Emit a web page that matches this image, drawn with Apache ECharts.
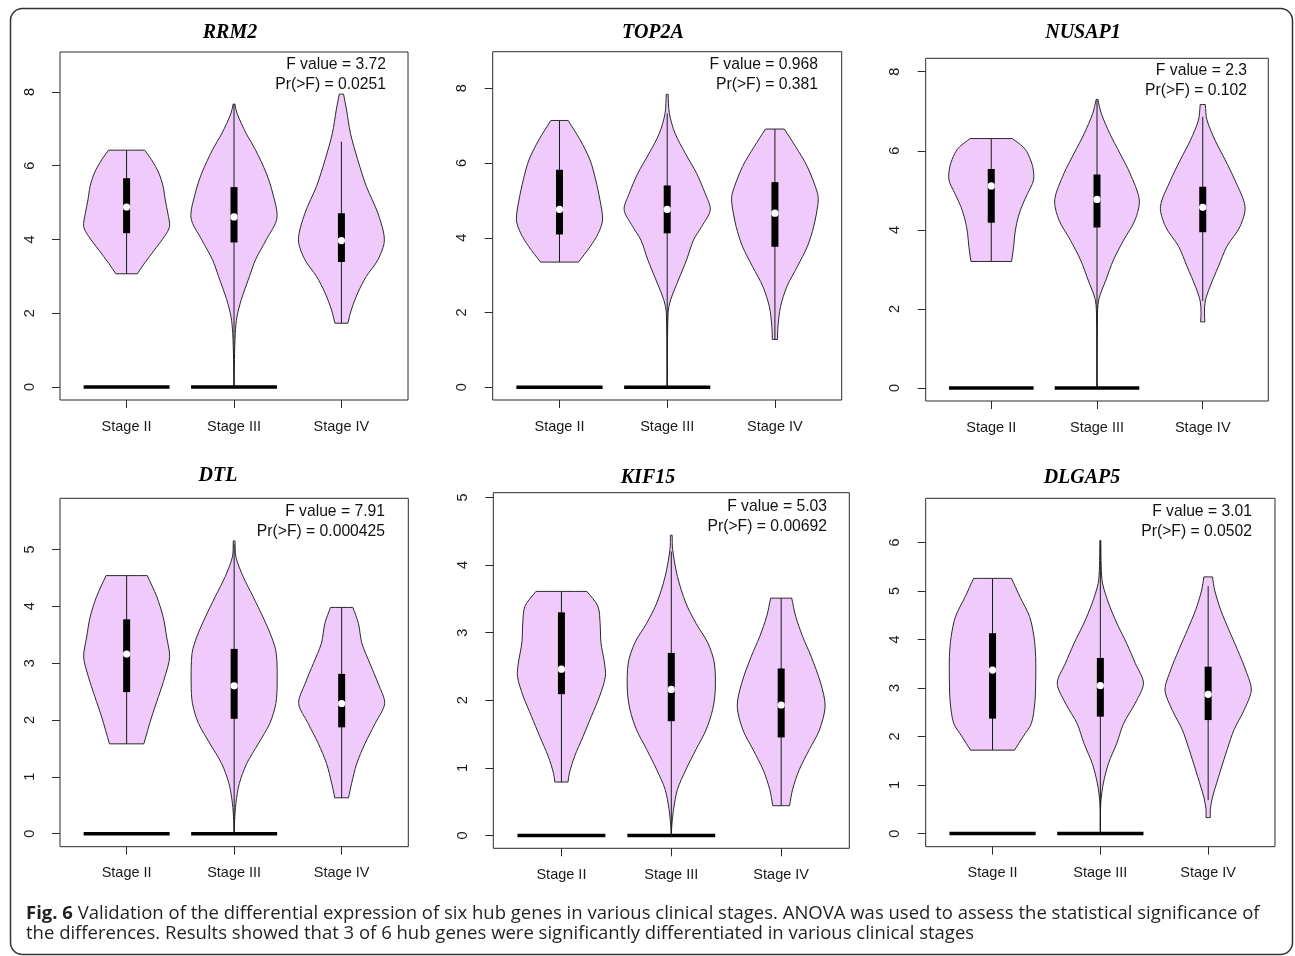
<!DOCTYPE html>
<html>
<head>
<meta charset="utf-8">
<script src="https://cdn.jsdelivr.net/npm/echarts@6/dist/echarts.min.js"></script>
<style>
html,body{margin:0;padding:0;background:#fff;}
#chart{width:1295px;height:956px;}
</style>
</head>
<body>
<div id="chart"></div>
<script>
// ---------- data ----------
const stages = ['Stage II', 'Stage III', 'Stage IV'];
const stagePos = [1, 2, 3];
const genes = ['RRM2', 'TOP2A', 'NUSAP1', 'DTL', 'KIF15', 'DLGAP5'];
const fValues = ['3.72', '0.968', '2.3', '7.91', '5.03', '3.01'];
const pValues = ['0.0251', '0.381', '0.102', '0.000425', '0.00692', '0.0502'];
const yTicks = [[0,2,4,6,8],[0,2,4,6,8],[0,2,4,6,8],[0,1,2,3,4,5],[0,1,2,3,4,5],[0,1,2,3,4,5,6]];
const yRanges = [[-0.35,9.08],[-0.34,8.98],[-0.33,8.34],[-0.23,5.9],[-0.19,5.07],[-0.27,6.91]];
const zeroBarStages = [1, 2];

// violin profiles: [expression value, relative half-width], bottom -> top
const rrm2Violins = [
  [[3.07,0.25],[3.36,0.42],[3.72,0.65],[4.08,0.88],[4.35,1.0],[4.71,0.96],[5.07,0.9],[5.44,0.85],[5.8,0.75],[6.16,0.58],[6.42,0.42]],
  [[0,0],[0.74,0.01],[1.46,0.03],[1.91,0.07],[2.37,0.17],[3.0,0.36],[3.45,0.5],[3.99,0.75],[4.58,1.0],[5.26,0.9],[5.8,0.75],[6.43,0.5],[6.88,0.28],[7.42,0.07],[7.67,0.02]],
  [[1.73,0.15],[2.09,0.23],[2.55,0.38],[3.0,0.58],[3.45,0.85],[3.99,1.0],[4.71,0.85],[5.44,0.58],[6.16,0.38],[6.88,0.21],[7.51,0.12],[7.94,0.05]]
];
const top2aViolins = [
  [[3.35,0.44],[3.76,0.71],[4.12,0.9],[4.48,1.0],[5.01,0.94],[5.55,0.84],[6.08,0.71],[6.62,0.48],[7.14,0.2]],
  [[0,0],[1.98,0.02],[2.34,0.08],[2.87,0.26],[3.41,0.45],[3.94,0.61],[4.3,0.8],[4.75,1.0],[5.19,0.88],[5.73,0.68],[6.26,0.42],[6.8,0.18],[7.33,0.05],[7.84,0.02]],
  [[1.28,0.06],[1.62,0.07],[2.16,0.13],[2.7,0.28],[3.23,0.52],[3.76,0.75],[4.3,0.9],[4.92,1.0],[5.19,0.99],[5.91,0.75],[6.44,0.48],[6.91,0.22]]
];
const nusap1Violins = [
  [[3.2,0.48],[3.58,0.53],[3.91,0.56],[4.25,0.62],[4.59,0.72],[4.92,0.86],[5.26,1.0],[5.6,0.98],[5.94,0.86],[6.1,0.75],[6.31,0.5]],
  [[0,0],[1.72,0.01],[2.23,0.04],[2.73,0.21],[3.24,0.39],[3.74,0.63],[4.25,0.9],[4.76,1.0],[5.43,0.78],[5.94,0.54],[6.44,0.3],[6.95,0.1],[7.3,0.02]],
  [[1.67,0.05],[1.9,0.04],[2.2,0.06],[2.56,0.17],[3.07,0.37],[3.58,0.57],[4.08,0.88],[4.59,1.0],[5.26,0.76],[5.77,0.53],[6.27,0.29],[6.78,0.1],[7.17,0.06]]
];
const dtlViolins = [
  [[1.58,0.4],[2.05,0.58],[2.41,0.74],[2.76,0.89],[3.11,1.0],[3.46,0.93],[3.81,0.85],[4.17,0.7],[4.54,0.48]],
  [[0,0],[0.23,0.01],[0.53,0.04],[0.88,0.12],[1.23,0.29],[1.58,0.56],[1.94,0.83],[2.29,0.97],[2.64,1.0],[3.17,0.98],[3.46,0.87],[3.81,0.67],[4.17,0.44],[4.52,0.21],[4.87,0.04],[5.15,0.02]],
  [[0.63,0.16],[0.88,0.23],[1.23,0.35],[1.58,0.54],[1.94,0.78],[2.29,1.0],[2.64,0.85],[2.99,0.66],[3.35,0.47],[3.7,0.39],[3.98,0.26]]
];
const kif15Violins = [
  [[0.79,0.15],[0.92,0.18],[1.17,0.3],[1.46,0.49],[1.76,0.68],[2.06,0.87],[2.35,1.0],[2.55,0.98],[2.85,0.9],[3.14,0.88],[3.39,0.83],[3.61,0.58]],
  [[0,0],[0.13,0.01],[0.38,0.05],[0.68,0.14],[0.97,0.33],[1.27,0.56],[1.56,0.79],[1.86,0.94],[2.15,1.0],[2.55,0.98],[2.85,0.83],[3.14,0.56],[3.44,0.33],[3.83,0.14],[4.23,0.03],[4.44,0.02]],
  [[0.44,0.19],[0.68,0.26],[0.97,0.41],[1.27,0.64],[1.56,0.87],[1.91,1.0],[2.25,0.9],[2.65,0.68],[2.94,0.49],[3.24,0.33],[3.51,0.24]]
];
const dlgap5Violins = [
  [[1.72,0.51],[2.0,0.71],[2.27,0.9],[2.69,0.98],[3.1,1.0],[3.65,1.0],[4.06,0.96],[4.47,0.86],[4.89,0.63],[5.26,0.44]],
  [[0,0],[0.63,0.01],[1.04,0.07],[1.45,0.19],[1.86,0.38],[2.27,0.54],[2.69,0.81],[3.1,1.0],[3.51,0.81],[3.92,0.61],[4.34,0.38],[4.75,0.19],[5.16,0.05],[5.5,0.02],[6.04,0.01]],
  [[0.33,0.05],[0.5,0.05],[0.75,0.1],[1.05,0.2],[1.31,0.29],[1.73,0.44],[2.14,0.6],[2.54,0.83],[2.96,1.0],[3.37,0.87],[3.79,0.68],[4.2,0.48],[4.61,0.29],[5.02,0.15],[5.29,0.1]]
];
// box stats: [lower whisker, Q1, median, Q3, upper whisker]
const rrm2Box   = [[3.07,4.17,4.88,5.66,6.42],[0,3.92,4.61,5.42,7.67],[1.73,3.39,3.97,4.71,6.65]];
const top2aBox  = [[3.35,4.09,4.76,5.82,7.14],[0,4.12,4.76,5.4,7.33],[1.28,3.76,4.66,5.49,6.91]];
const nusap1Box = [[3.2,4.18,5.11,5.54,6.31],[0,4.06,4.77,5.4,7.3],[2.2,3.94,4.57,5.09,6.86]];
const dtlBox    = [[1.58,2.49,3.16,3.77,4.54],[0,2.02,2.6,3.25,5.1],[0.63,1.87,2.29,2.81,3.98]];
const kif15Box  = [[0.79,2.09,2.46,3.3,3.61],[0,1.69,2.16,2.7,4.2],[0.44,1.45,1.93,2.47,3.51]];
const dlgap5Box = [[1.72,2.37,3.37,4.13,5.26],[0,2.41,3.05,3.62,6.04],[0.69,2.34,2.87,3.44,5.1]];

const violins = [rrm2Violins, top2aViolins, nusap1Violins, dtlViolins, kif15Violins, dlgap5Violins];
const boxes = [rrm2Box, top2aBox, nusap1Box, dtlBox, kif15Box, dlgap5Box];

// ---------- layout (pixels) ----------
const layout = [
  {left:60,    top:52,    width:348,   height:348,   titleX:230,  titleY:33,  annX:386,  annY:65},
  {left:492.7, top:51.7,  width:349,   height:348.3, titleX:653,  titleY:33,  annX:818,  annY:65},
  {left:925.7, top:58.3,  width:342.6, height:342.7, titleX:1083, titleY:33,  annX:1247, annY:71},
  {left:60,    top:498.3, width:348.3, height:348.4, titleX:218,  titleY:476, annX:385,  annY:512},
  {left:493.3, top:492.7, width:356,   height:355.6, titleX:648,  titleY:478, annX:827,  annY:507},
  {left:925.7, top:498.3, width:349.3, height:348.4, titleX:1082, titleY:478, annX:1252, annY:512}
];
const VW = 0.4;           // max violin half-width (x units)
const FILL = '#EFCAFB';
const INK = '#2a2a2a';
const SANS = '"Liberation Sans", Arial, Helvetica, sans-serif';

const chart = echarts.init(document.getElementById('chart'), null, {renderer: 'canvas'});

function makeRender(g) {
  return function (params, api) {
    const s = api.value(0);
    const k = params.dataIndex;
    const prof = violins[g][k];
    const box = boxes[g][k];
    const right = prof.map(p => api.coord([s + p[1] * VW, p[0]]));
    const left = prof.map(p => api.coord([s - p[1] * VW, p[0]])).reverse();
    const n = right.length;
    const pts = [right[0]].concat(right, [right[n - 1], left[0]], left, [left[n - 1]]);
    const children = [];
    children.push({
      type: 'polygon',
      shape: {points: pts, smooth: 0.3},
      style: {fill: FILL, stroke: INK, lineWidth: 1}
    });
    if (zeroBarStages.indexOf(s) >= 0) {
      const a = api.coord([s - 0.4, 0]), b = api.coord([s + 0.4, 0]);
      children.push({type: 'line', shape: {x1: a[0], y1: a[1], x2: b[0], y2: b[1]},
        style: {stroke: '#000', lineWidth: 3.5}});
    }
    const w0 = api.coord([s, box[0]]), w1 = api.coord([s, box[4]]);
    children.push({type: 'line', shape: {x1: w0[0], y1: w0[1], x2: w1[0], y2: w1[1]},
      style: {stroke: '#1a1a1a', lineWidth: 1}});
    const q1 = api.coord([s, box[1]]), q3 = api.coord([s, box[3]]);
    children.push({type: 'rect', shape: {x: q1[0] - 3.5, y: q3[1], width: 7, height: q1[1] - q3[1]},
      style: {fill: '#000'}});
    const m = api.coord([s, box[2]]);
    children.push({type: 'circle', shape: {cx: m[0], cy: m[1], r: 3.6}, style: {fill: '#fff'}});
    return {type: 'group', children: children};
  };
}

const grids = [], xAxes = [], yAxes = [], series = [], graphics = [];
genes.forEach((gene, g) => {
  const L = layout[g];
  grids.push({left: L.left, top: L.top, width: L.width, height: L.height,
    show: true, borderColor: INK, borderWidth: 1, backgroundColor: 'transparent', containLabel: false});
  xAxes.push({
    gridIndex: g, type: 'value', min: 0.38, max: 3.62,
    splitLine: {show: false}, axisLine: {show: false, onZero: false},
    axisTick: {show: true, customValues: stagePos, length: 8, lineStyle: {color: INK, width: 1}},
    axisLabel: {show: true, customValues: stagePos, margin: 19, fontSize: 14.5, color: '#1a1a1a',
      fontFamily: SANS, formatter: v => stages[Math.round(v) - 1]}
  });
  yAxes.push({
    gridIndex: g, type: 'value', min: yRanges[g][0], max: yRanges[g][1],
    splitLine: {show: false}, axisLine: {show: false, onZero: false},
    axisTick: {show: true, customValues: yTicks[g], length: 8, lineStyle: {color: INK, width: 1}},
    axisLabel: {show: true, customValues: yTicks[g], rotate: 90, margin: 23, fontSize: 14.5,
      color: '#1a1a1a', fontFamily: SANS}
  });
  series.push({
    type: 'custom', xAxisIndex: g, yAxisIndex: g,
    data: stagePos.map((s, k) => [s, boxes[g][k][2]]),
    encode: {x: 0, y: 1},
    renderItem: makeRender(g), silent: true, clip: false
  });
  graphics.push({type: 'text', x: L.titleX, y: L.titleY,
    style: {text: gene, font: 'italic bold 20px "Liberation Serif", "Times New Roman", serif',
      fill: '#000', align: 'center', verticalAlign: 'middle'}});
  graphics.push({type: 'text', x: L.annX, y: L.annY,
    style: {text: 'F value = ' + fValues[g], font: '15.7px ' + SANS, fill: '#111',
      align: 'right', verticalAlign: 'middle'}});
  graphics.push({type: 'text', x: L.annX, y: L.annY + 19.5,
    style: {text: 'Pr(>F) = ' + pValues[g], font: '15.7px ' + SANS, fill: '#111',
      align: 'right', verticalAlign: 'middle'}});
});

// outer frame and caption
graphics.push({type: 'rect', shape: {x: 10.5, y: 8.5, width: 1282, height: 946, r: 12},
  style: {fill: 'none', stroke: '#333', lineWidth: 1.5}, z: -1});
graphics.push({type: 'text', x: 26, y: 913.5,
  style: {text: '{b|Fig. 6} Validation of the differential expression of six hub genes in various clinical stages. ANOVA was used to assess the statistical significance of',
    rich: {b: {fontWeight: 'bold', fontFamily: '"Open Sans", sans-serif', fontSize: 18.5, fill: '#231f20'}},
    fontFamily: '"Open Sans", sans-serif', fontSize: 18.5, fill: '#231f20', align: 'left', verticalAlign: 'middle'}});
graphics.push({type: 'text', x: 26, y: 934,
  style: {text: 'the differences. Results showed that 3 of 6 hub genes were significantly differentiated in various clinical stages',
    fontFamily: '"Open Sans", sans-serif', fontSize: 18.5, fill: '#231f20', align: 'left', verticalAlign: 'middle'}});

chart.setOption({
  animation: false,
  backgroundColor: '#fff',
  grid: grids,
  xAxis: xAxes,
  yAxis: yAxes,
  series: series,
  graphic: graphics
});
</script>
</body>
</html>
